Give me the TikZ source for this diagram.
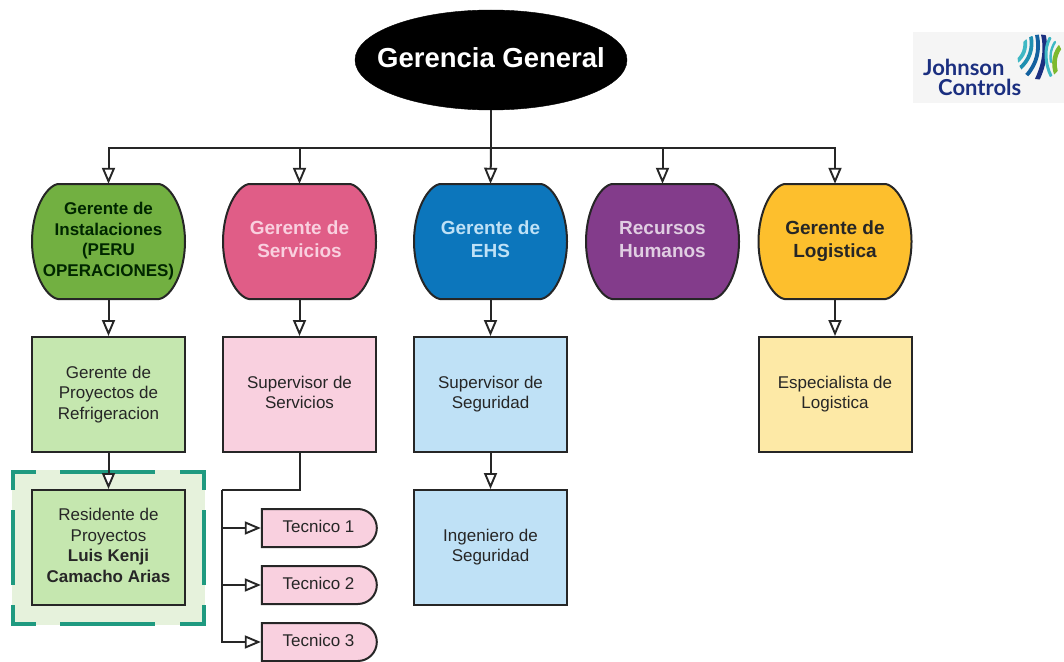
\documentclass[tikz,border=0pt]{standalone}
\usepackage{fontspec}
\setmainfont{Liberation Sans}
\newfontfamily\logofont{Lato}
\usetikzlibrary{arrows.meta,shapes.geometric,shapes.misc}
\definecolor{linec}{HTML}{262626}
\definecolor{gA}{HTML}{72B041}\definecolor{gL}{HTML}{C5E7AF}
\definecolor{pA}{HTML}{E05D87}\definecolor{pL}{HTML}{F9D0DF}
\definecolor{bA}{HTML}{0C76BC}\definecolor{bL}{HTML}{BFE1F6}
\definecolor{vA}{HTML}{833C8B}
\definecolor{yA}{HTML}{FDBF2D}\definecolor{yL}{HTML}{FDE9A6}
\definecolor{teal}{HTML}{1F9A80}\definecolor{halo}{HTML}{E6F2DC}
\definecolor{navy}{HTML}{1B2F80}
\definecolor{lteal}{HTML}{3FB8C4}\definecolor{mteal}{HTML}{1E8FB0}\definecolor{mblue}{HTML}{12609F}\definecolor{lgreen}{HTML}{7DB92E}
\tikzset{
  x=1pt,y=-1pt,
  conn/.style={draw=linec,line width=2pt,-{Triangle[open,length=16pt,width=13pt,fill=white,line width=1.9pt]}},
  plainline/.style={draw=linec,line width=2pt},
  box/.style={draw=linec,line width=2pt,minimum width=153pt,minimum height=115pt,inner sep=0pt,align=center,font=\fontsize{17}{20.5}\selectfont,text=black!85},
  mgrtext/.style={minimum width=153pt,minimum height=115pt,inner sep=0pt,align=center,font=\fontsize{17}{20.5}\selectfont\bfseries},
  mgrlarge/.style={mgrtext,font=\fontsize{19}{23}\selectfont\bfseries},
  tec/.style={rounded rectangle,rounded rectangle west arc=none,draw=linec,line width=2pt,fill=pL,minimum width=115pt,minimum height=38pt,inner sep=0pt,font=\fontsize{17}{20}\selectfont,text=black!85},
  hb/.style={teal,line width=4pt},
  stripe/.style={line width=3.8pt,line cap=round},
}
% \mgr{name}{left x}{fill}{style}{text colour}{text}
\newcommand{\mgrpath}[1]{(#1+26,184) -- (#1+127,184)
    .. controls (#1+139,186) and (#1+153,210) .. (#1+153,241.5)
    .. controls (#1+153,273) and (#1+139,297) .. (#1+127,299)
    -- (#1+26,299)
    .. controls (#1+14,297) and (#1,273) .. (#1,241.5)
    .. controls (#1,210) and (#1+14,186) .. (#1+26,184) -- cycle}
\newcommand{\mgr}[6]{%
  \draw[linec,line width=2pt,fill=#3] \mgrpath{#2};
  \node[#4,text=#5] (#1) at (#2+76.5,241.5) {\raisebox{1.5pt}{\begin{tabular}{@{}c@{}}#6\end{tabular}}};%
}
\begin{document}
\begin{tikzpicture}
\useasboundingbox (0,0) rectangle (1064,661);
\fill[white] (0,0) rectangle (1064,661);

% highlight around the residente box
\fill[halo] (12,470) rectangle (205,625);
\draw[hb] (13,490) -- (13,472) -- (36,472);
\draw[hb] (60,472) -- (155,472);
\draw[hb] (180,472) -- (204,472) -- (204,490);
\draw[hb] (13,510) -- (13,585);
\draw[hb] (204,510) -- (204,585);
\draw[hb] (13,605) -- (13,624) -- (36,624);
\draw[hb] (60,624) -- (155,624);
\draw[hb] (180,624) -- (204,624) -- (204,605);

% logo
\fill[black!4] (913,32) rectangle (1064,103);
\node[inner sep=0pt,anchor=base west,text=navy,font=\logofont\fontsize{22}{22}\selectfont\bfseries] (logoA) at (923,75) {Johnson};
\node[inner sep=0pt,anchor=base west,text=navy,font=\logofont\fontsize{22}{22}\selectfont\bfseries] (logoB) at (938,95) {Controls};
\begin{scope}
\clip (1040,57) circle (22.5);
\draw[stripe,lteal] (1025,40) .. controls (1026,48) and (1024,56) .. (1016,62);
\draw[stripe,mteal] (1031,37) .. controls (1033,48) and (1030,60) .. (1019,69);
\draw[stripe,mblue] (1037,35) .. controls (1040,50) and (1037,64) .. (1026,76);
\draw[stripe,navy,line width=4.6pt] (1043,33) .. controls (1047,50) and (1044,66) .. (1036,82);
\draw[stripe,lteal,line width=3pt] (1050,38) .. controls (1044,48) and (1045,64) .. (1051,76);
\draw[stripe,lteal,line width=2.4pt] (1055,42) .. controls (1050,50) and (1050,58) .. (1051,62);
\draw[stripe,lgreen,line width=4.6pt] (1060,47) .. controls (1053,56) and (1053,68) .. (1058,78);
\end{scope}

% top node
\node[ellipse,fill=black,draw=black,minimum width=272pt,minimum height=100pt,inner sep=0pt,text=white,font=\fontsize{27.5}{30}\selectfont\bfseries] (gg) at (491,60) {\makebox[0pt]{\raisebox{4pt}{Gerencia General}}};

% managers
\mgr{m1}{32}{gA}{mgrtext}{black!85!green}{Gerente de\\Instalaciones\\(PERU\\OPERACIONES)}
\mgr{m2}{223}{pA}{mgrlarge}{pL}{Gerente de\\Servicios}
\mgr{m3}{414}{bA}{mgrlarge}{bL}{Gerente de\\EHS}
\mgr{m4}{586}{vA}{mgrlarge}{vA!25!white}{Recursos\\Humanos}
\mgr{m5}{758.5}{yA}{mgrlarge}{black!85}{Gerente de\\Logistica}

% boxes
\node[box,fill=gL] (b1) at (108.5,394.5) {\raisebox{2pt}{\begin{tabular}{@{}c@{}}Gerente de\\Proyectos de\\Refrigeracion\end{tabular}}};
\node[box,fill=gL] (b1r) at (108.5,547.5) {\raisebox{2pt}{\begin{tabular}{@{}c@{}}Residente de\\Proyectos\\\textbf{Luis Kenji}\\\textbf{Camacho Arias}\end{tabular}}};
\node[box,fill=pL] (b2) at (299.5,394.5) {\raisebox{2pt}{\begin{tabular}{@{}c@{}}Supervisor de\\Servicios\end{tabular}}};
\node[box,fill=bL] (b3) at (490.5,394.5) {\raisebox{2pt}{\begin{tabular}{@{}c@{}}Supervisor de\\Seguridad\end{tabular}}};
\node[box,fill=bL] (b3i) at (490.5,547.5) {\begin{tabular}{@{}c@{}}Ingeniero de\\Seguridad\end{tabular}};
\node[box,fill=yL] (b5) at (835,394.5) {\raisebox{2pt}{\begin{tabular}{@{}c@{}}Especialista de\\Logistica\end{tabular}}};

% tecnicos
\node[tec] (t1) at (318.5,528) {\raisebox{3pt}{Tecnico 1}};
\node[tec] (t2) at (318.5,585) {\raisebox{3pt}{Tecnico 2}};
\node[tec] (t3) at (318.5,642) {\raisebox{3pt}{Tecnico 3}};

% connectors
\coordinate (bus) at (491,148);
\coordinate (elbow) at (222,490);
\draw[plainline] (gg.south) -- (bus);
\draw[conn] (bus) -| (m1.north);
\draw[conn] (bus) -| (m2.north);
\draw[conn] (bus) -- (m3.north);
\draw[conn] (bus) -| (m4.north);
\draw[conn] (bus) -| (m5.north);
\draw[conn] (m1.south) -- (b1.north);
\draw[conn] (m2.south) -- (b2.north);
\draw[conn] (m3.south) -- (b3.north);
\draw[conn] (m5.south) -- (b5.north);
\draw[conn] (b1.south) -- (b1r.north);
\draw[conn] (b3.south) -- (b3i.north);
\draw[plainline] (b2.south) |- (elbow);
\draw[conn] (elbow) |- (t1.west);
\draw[conn] (elbow) |- (t2.west);
\draw[conn] (elbow) |- (t3.west);
\end{tikzpicture}
\end{document}
